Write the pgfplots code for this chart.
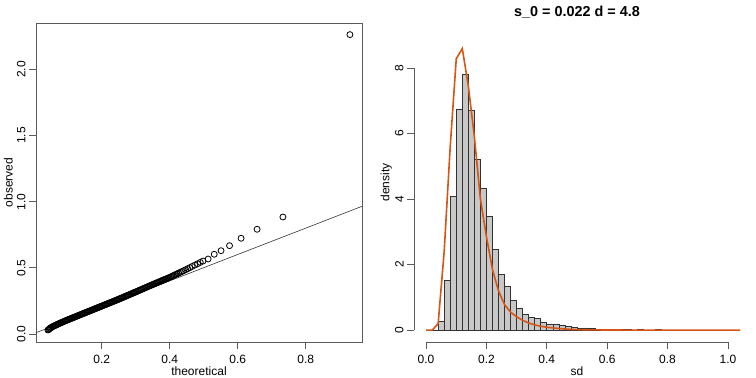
\documentclass[border=0pt]{standalone}
\usepackage{fontspec}
\setmainfont{Liberation Sans}
\usepackage{pgfplots}
\pgfplotsset{compat=1.18}
\definecolor{histfill}{RGB}{200,200,200}
\definecolor{histedge}{RGB}{50,50,50}
\definecolor{orangec}{RGB}{214,84,20}
\definecolor{axgray}{RGB}{90,90,90}
\begin{document}
\begin{tikzpicture}
\path[use as bounding box] (0,0) rectangle (756pt,378pt);
% ---------------- left: QQ plot ----------------
\begin{axis}[
  at={(36pt,36pt)}, anchor=south west, scale only axis,
  width=326pt, height=319pt,
  xmin=0.0068, xmax=0.9656, ymin=-0.0605, ymax=2.352,
  axis line style={axgray, line width=0.8pt},
  tick align=outside, major tick length=7pt,
  tick style={axgray, line width=0.8pt},
  xtick pos=left, ytick pos=left,
  xtick={0.2,0.4,0.6,0.8}, xticklabels={0.2,0.4,0.6,0.8},
  ytick={0,0.5,1,1.5,2}, yticklabels={0.0,0.5,1.0,1.5,2.0},
  /pgf/number format/assume math mode=true,
  ticklabel style={font=\fontsize{12}{14}\selectfont},
  xticklabel style={anchor=north, inner ysep=5.5pt},
  yticklabel style={rotate=90, anchor=south, inner ysep=3.3pt},
  xlabel={theoretical}, ylabel={observed},
  label style={font=\fontsize{12}{14}\selectfont},
  xlabel style={at={(axis description cs:0.5,-0.0909)}, anchor=center},
  ylabel style={at={(axis description cs:-0.085,0.5)}, anchor=center},
]
\addplot[black!80, line width=0.6pt] coordinates {(0,0.003) (1,1.0)};
\addplot[only marks, mark=o, mark size=3pt, mark options={line width=0.8pt, black}] coordinates {
(0.042,0.030) (0.044,0.034) (0.046,0.038) (0.048,0.043) (0.050,0.047)
(0.0525,0.050) (0.055,0.054) (0.0575,0.058) (0.060,0.061) (0.0625,0.064)
(0.065,0.067) (0.0675,0.070) (0.070,0.073) (0.0725,0.076) (0.075,0.079)
(0.0775,0.082) (0.080,0.085) (0.0825,0.088) (0.085,0.0905) (0.0875,0.093)
(0.090,0.096) (0.0925,0.099) (0.095,0.1015) (0.0975,0.104) (0.100,0.107)
(0.1025,0.1096) (0.105,0.1122) (0.1075,0.1148) (0.110,0.1174) (0.1125,0.120)
(0.115,0.1226) (0.1175,0.1252) (0.120,0.1278) (0.1225,0.1304) (0.125,0.133)
(0.1275,0.1356) (0.130,0.1382) (0.1325,0.1408) (0.135,0.1434) (0.1375,0.146)
(0.140,0.1486) (0.1425,0.1512) (0.145,0.1538) (0.1475,0.1564) (0.150,0.159)
(0.1525,0.1616) (0.155,0.1642) (0.1575,0.1668) (0.160,0.1694) (0.1625,0.172)
(0.165,0.1746) (0.1675,0.1772) (0.170,0.1798) (0.1725,0.1824) (0.175,0.185)
(0.1775,0.1876) (0.180,0.1902) (0.1825,0.1928) (0.185,0.1954) (0.1875,0.198)
(0.190,0.2006) (0.1925,0.2032) (0.195,0.2058) (0.1975,0.2084) (0.200,0.211)
(0.2025,0.2136) (0.205,0.2162) (0.2075,0.2188) (0.210,0.2214) (0.2125,0.224)
(0.215,0.2266) (0.2175,0.2292) (0.220,0.2318) (0.2225,0.2344) (0.225,0.237)
(0.2275,0.2396) (0.230,0.2422) (0.2325,0.2448) (0.235,0.2474) (0.2375,0.250)
(0.240,0.2526) (0.2425,0.2552) (0.245,0.2578) (0.2475,0.2604) (0.250,0.263)
(0.2525,0.2658) (0.255,0.2685) (0.2575,0.2713) (0.260,0.274) (0.2625,0.2768)
(0.265,0.2795) (0.2675,0.2823) (0.270,0.285) (0.2725,0.2878) (0.275,0.2905)
(0.2775,0.2933) (0.280,0.296) (0.2825,0.2988) (0.285,0.3015) (0.2875,0.3043)
(0.290,0.307) (0.2925,0.3098) (0.295,0.3125) (0.2975,0.3153) (0.300,0.318)
(0.303,0.3214) (0.306,0.3247) (0.309,0.3281) (0.312,0.3314) (0.315,0.3348)
(0.318,0.3382) (0.321,0.3415) (0.324,0.3449) (0.327,0.3482) (0.330,0.3516)
(0.333,0.355) (0.336,0.3583) (0.339,0.3617) (0.342,0.365) (0.345,0.3684)
(0.348,0.3718) (0.351,0.3751) (0.353,0.3772) (0.356,0.3805) (0.359,0.3837)
(0.362,0.387) (0.365,0.3902) (0.368,0.3934) (0.371,0.3967) (0.374,0.3999)
(0.377,0.4032) (0.380,0.4064) (0.383,0.4096) (0.386,0.4129) (0.389,0.4161)
(0.392,0.4194) (0.395,0.4226) (0.398,0.4258) (0.402,0.4305) (0.406,0.4355)
(0.410,0.4404) (0.414,0.4454) (0.418,0.4504) (0.422,0.4553) (0.426,0.4603)
(0.431,0.4665) (0.436,0.4727) (0.441,0.4789) (0.447,0.4863) (0.453,0.494)
(0.459,0.5018) (0.466,0.5108) (0.474,0.5211) (0.482,0.5314) (0.490,0.5417)
(0.498,0.552) (0.513,0.567) (0.531,0.603) (0.551,0.630) (0.576,0.668)
(0.610,0.724) (0.657,0.792) (0.733,0.885) (0.930,2.264)
};
\end{axis}
% ---------------- right: histogram ----------------
\begin{axis}[
  at={(414pt,36pt)}, anchor=south west, scale only axis,
  width=326pt, height=319pt, clip=false,
  xmin=-0.04, xmax=1.04, ymin=-0.36, ymax=9.37,
  axis line style={draw=none},
  tick align=outside, major tick length=7pt,
  tick style={axgray, line width=0.8pt},
  xtick pos=left, ytick pos=left,
  xtick={0,0.2,0.4,0.6,0.8,1.0}, xticklabels={0.0,0.2,0.4,0.6,0.8,1.0},
  ytick={0,2,4,6,8}, yticklabels={0,2,4,6,8},
  /pgf/number format/assume math mode=true,
  ticklabel style={font=\fontsize{12}{14}\selectfont},
  xticklabel style={anchor=north, inner ysep=5.5pt},
  yticklabel style={rotate=90, anchor=south, inner ysep=3.3pt},
  xlabel={sd}, ylabel={density},
  label style={font=\fontsize{12}{14}\selectfont},
  xlabel style={at={(axis description cs:0.5,-0.0909)}, anchor=center},
  ylabel style={at={(axis description cs:-0.085,0.5)}, anchor=center},
]
\addplot[axgray, line width=0.8pt, forget plot] coordinates {(0,-0.36) (1,-0.36)};
\addplot[axgray, line width=0.8pt, forget plot] coordinates {(-0.04,0) (-0.04,8)};
\addplot[ybar interval, fill=histfill, draw=histedge, line width=0.7pt] coordinates {
(0.00,0) (0.02,0) (0.04,0.26) (0.06,1.51) (0.08,4.07) (0.10,6.75)
(0.12,7.81) (0.14,6.70) (0.16,5.22) (0.18,4.34) (0.20,3.48) (0.22,2.46)
(0.24,1.70) (0.26,1.35) (0.28,0.90) (0.30,0.68) (0.32,0.49) (0.34,0.40)
(0.36,0.37) (0.38,0.25) (0.40,0.19) (0.42,0.17) (0.44,0.14) (0.46,0.11)
(0.48,0.08) (0.50,0.07) (0.52,0.07) (0.54,0.05) (0.56,0.04) (0.58,0.03)
(0.60,0.02) (0.62,0.03) (0.64,0.02) (0.66,0.015) (0.68,0.01) (0.70,0.04)
(0.72,0.01) (0.74,0.01) (0.76,0.03) (0.78,0.005) (0.80,0.005) (0.82,0)
(0.84,0) (0.86,0.005) (0.88,0) (0.90,0) (0.92,0) (0.94,0) (0.96,0)
(0.98,0) (1.00,0) (1.02,0) (1.04,0)
};
\addplot[orangec, line width=1.6pt] coordinates {
(0,0) (0.02,0) (0.04,0.2) (0.06,2.4) (0.08,5.6) (0.10,8.28) (0.12,8.59)
(0.14,7.45) (0.16,5.9) (0.18,4.0) (0.20,2.85) (0.22,1.85) (0.24,1.2)
(0.26,0.78) (0.28,0.55) (0.30,0.41) (0.32,0.30) (0.34,0.22) (0.36,0.16)
(0.38,0.12) (0.40,0.09) (0.42,0.07) (0.44,0.05) (0.46,0.035) (0.48,0.025)
(0.50,0.018) (0.55,0.01) (0.60,0.006) (0.70,0.003) (0.80,0.001) (1.04,0)
};
\node[font=\bfseries\fontsize{14.4}{17}\selectfont, anchor=center] at (axis description cs:0.5,1.0345) {s\_0 = 0.022 d = 4.8};
\end{axis}
\end{tikzpicture}
\end{document}
